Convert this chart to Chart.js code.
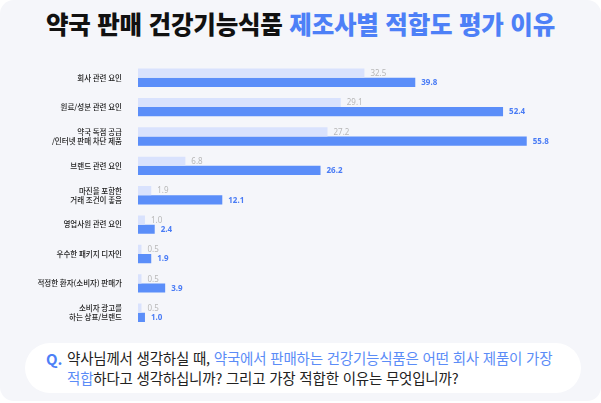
<!DOCTYPE html>
<html lang="ko">
<head>
<meta charset="utf-8">
<script src="https://cdn.jsdelivr.net/npm/chart.js@4"></script>
<style>
  html, body { margin: 0; padding: 0; background: #ffffff; }
  body { width: 601px; height: 403px; position: relative; overflow: hidden;
         font-family: "Noto Sans CJK KR", "Noto Sans", sans-serif; }
  .panel { position: absolute; left: 0; top: 0; width: 601px; height: 401px;
           background: #f5f6fa; border-radius: 14px; }
  .title { position: absolute; left: 0; top: 6px; width: 601px; text-align: center;
           font-size: 24.5px; font-weight: 900; color: #111; letter-spacing: -0.2px; }
  .title span { color: #4d80f7; }
  .question { position: absolute; left: 25px; top: 343px; width: 556px; height: 50px;
              background: #ffffff; border-radius: 25px; }
  .question .q { position: absolute; left: 21px; top: 5px; font-size: 15px; font-weight: 700; color: #4d80f7; }
  .question .t { position: absolute; left: 42px; top: 5px; width: 520px; font-size: 14.5px;
                 line-height: 20px; color: #222; letter-spacing: -0.2px; white-space: nowrap; }
  .question .t span { color: #5b8cf7; }
  #wrap { position: absolute; left: 0; top: 46px; width: 601px; height: 294px; }
</style>
</head>
<body>
<div class="panel"></div>
<div class="title">약국 판매 건강기능식품 <span>제조사별 적합도 평가 이유</span></div>
<div id="wrap"><canvas id="chart"></canvas></div>
<div class="question">
  <div class="q">Q.</div>
  <div class="t">약사님께서 생각하실 때, <span>약국에서 판매하는 건강기능식품은 어떤 회사 제품이 가장<br>적합</span>하다고 생각하십니까? 그리고 가장 적합한 이유는 무엇입니까?</div>
</div>
<script>
//Categories (multi-line labels as arrays)
const categories = [
  "회사 관련 요인",
  "원료/성분 관련 요인",
  ["약국 독점 공급", "/인터넷 판매 차단 제품"],
  "브랜드 관련 요인",
  ["마진을 포함한", "거래 조건이 좋음"],
  "영업사원 관련 요인",
  "우수한 패키지 디자인",
  "적정한 환자(소비자) 판매가",
  ["소비자 광고를", "하는 상표/브랜드"],
];
//Light series values
const lightValues = [32.5, 29.1, 27.2, 6.8, 1.9, 1.0, 0.5, 0.5, 0.5];
//Dark series values
const darkValues = [39.8, 52.4, 55.8, 26.2, 12.1, 2.4, 1.9, 3.9, 1.0];

const lightColor = "#d9e2fd";
const darkColor = "#5b8ef9";

//Plugin that writes the value after each bar
const valueLabels = {
  id: "valueLabels",
  afterDatasetsDraw(chart) {
    const ctx = chart.ctx;
    ctx.save();
    ctx.textBaseline = "middle";
    ctx.textAlign = "left";
    chart.data.datasets.forEach((ds, di) => {
      const meta = chart.getDatasetMeta(di);
      meta.data.forEach((bar, i) => {
        if (di === 0) {
          ctx.fillStyle = "#b8b8b8";
          ctx.font = "400 8px 'Noto Sans', 'Noto Sans CJK KR', sans-serif";
        } else {
          ctx.fillStyle = "#4a7cf5";
          ctx.font = "700 8px 'Noto Sans', 'Noto Sans CJK KR', sans-serif";
        }
        ctx.fillText(ds.data[i].toFixed(1), bar.x + 6, bar.y + 0.5);
      });
    });
    ctx.restore();
  },
};

new Chart(document.getElementById("chart"), {
  type: "bar",
  plugins: [valueLabels],
  data: {
    labels: categories,
    datasets: [
      { data: lightValues, backgroundColor: lightColor },
      { data: darkValues, backgroundColor: darkColor },
    ],
  },
  options: {
    indexAxis: "y",
    responsive: true,
    maintainAspectRatio: false,
    animation: false,
    layout: { padding: { top: 3, bottom: 3, right: 45, left: 0 } },
    datasets: { bar: { categoryPercentage: 0.625, barPercentage: 1 } },
    plugins: { legend: { display: false }, tooltip: { enabled: false } },
    scales: {
      x: { display: false, min: 0, max: 60 },
      y: {
        grid: { display: false },
        border: { display: false },
        afterFit: (s) => { s.width = 138; },
        ticks: {
          padding: 8,
          color: "#222",
          font: { family: "'Noto Sans CJK KR', sans-serif", size: 7.5, weight: 500, lineHeight: 1.2 },
        },
      },
    },
  },
});
</script>
</body>
</html>
